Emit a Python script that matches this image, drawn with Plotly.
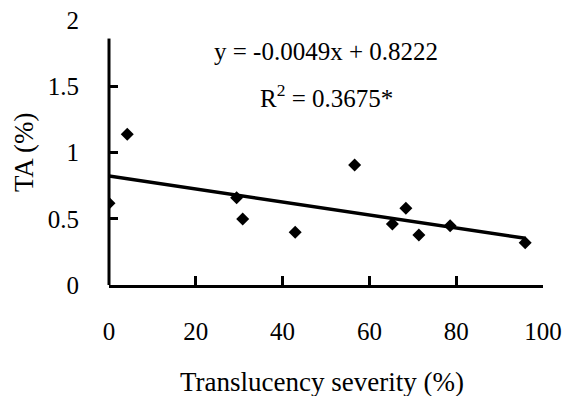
import plotly.graph_objects as go

severity = [0, 4.2, 29.4, 30.8, 42.9, 56.6, 65.3, 68.4, 71.4, 78.6, 95.9]
ta = [0.617, 1.137, 0.659, 0.498, 0.398, 0.906, 0.46, 0.579, 0.377, 0.448, 0.319]
slope = -0.0049
intercept = 0.8222
x_ticks = [0, 20, 40, 60, 80, 100]
y_ticks = [0, 0.5, 1, 1.5, 2]
y_tick_text = ["0", "0.5", "1", "1.5", "2"]

FONT = "Liberation Serif, Times New Roman, serif"
W, H = 562, 396
ML, MR, MT, MB = 109, 19, 20, 111
PW, PH = W - ML - MR, H - MT - MB


def px_to_paper(px, py):
    return (px - ML) / PW, (H - MB - py) / PH


fit_x = [0, max(severity)]
fit_y = [slope * v + intercept for v in fit_x]

fig = go.Figure()
fig.add_trace(go.Scatter(x=fit_x, y=fit_y, mode="lines",
                         line=dict(color="black", width=3.5), hoverinfo="skip"))
fig.add_trace(go.Scatter(x=severity, y=ta, mode="markers",
                         marker=dict(symbol="diamond", size=10, color="black")))

xt_x, xt_y = px_to_paper(322, 382)
yt_x, yt_y = px_to_paper(24, 152)

fig.update_layout(
    width=W, height=H,
    margin=dict(l=ML, r=MR, t=MT, b=MB, autoexpand=False),
    paper_bgcolor="white", plot_bgcolor="white",
    showlegend=False,
    font=dict(family=FONT, size=25, color="black"),
    xaxis=dict(range=[0, 100], tickvals=x_ticks, ticks="inside", ticklen=9,
               tickwidth=2.5, tickcolor="black", showline=True, linecolor="black",
               linewidth=2.5, showgrid=False, zeroline=False, automargin=False,
               ticklabelstandoff=22, tickfont=dict(size=25)),
    yaxis=dict(range=[0, 2], tickvals=y_ticks, ticktext=y_tick_text,
               ticks="inside", ticklen=9, tickwidth=2.5, tickcolor="black",
               showline=False, showgrid=False, zeroline=False, automargin=False,
               ticklabelstandoff=29, tickfont=dict(size=25)),
    shapes=[dict(type="line", xref="paper", yref="paper", x0=0, x1=0, y0=0, y1=0.93,
                 line=dict(color="black", width=3))],
    annotations=[
        dict(x=50, y=1.76, xref="x", yref="y", text="y = -0.0049x + 0.8222",
             showarrow=False, font=dict(size=25), xanchor="center", yanchor="middle"),
        dict(x=50, y=1.43, xref="x", yref="y", text="R<sup>2</sup> = 0.3675*",
             showarrow=False, font=dict(size=25), xanchor="center", yanchor="middle"),
        dict(x=xt_x, y=xt_y, xref="paper", yref="paper", text="Translucency severity (%)",
             showarrow=False, font=dict(size=27), xanchor="center", yanchor="middle"),
        dict(x=yt_x, y=yt_y, xref="paper", yref="paper", text="TA (%)", textangle=-90,
             showarrow=False, font=dict(size=27), xanchor="center", yanchor="middle"),
    ],
)

fig.write_html("out.html")
